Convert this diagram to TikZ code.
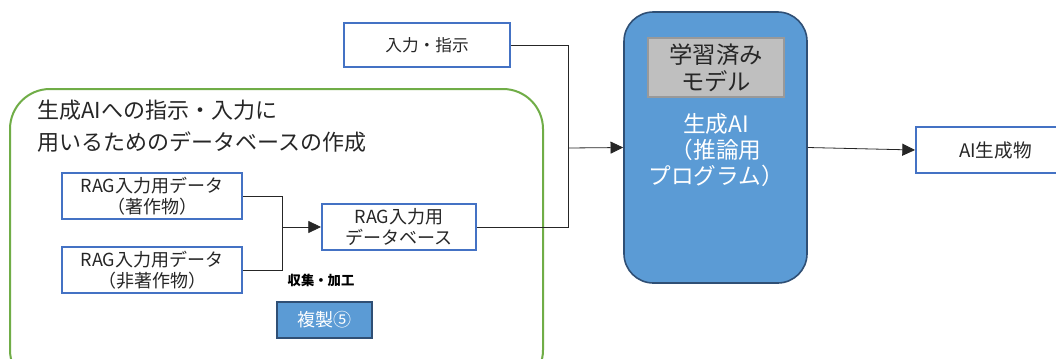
\documentclass[tikz,border=0pt]{standalone}
\usepackage{fontspec}
\setmainfont{Noto Sans CJK JP}
\usepackage{tikz}
\usetikzlibrary{arrows.meta}

\definecolor{boxblue}{HTML}{4472C4}
\definecolor{aifill}{HTML}{5B9BD5}
\definecolor{aiedge}{HTML}{2F4F75}
\definecolor{regiongreen}{HTML}{70AD47}
\definecolor{modelgray}{HTML}{BFBFBF}
\definecolor{inkgray}{HTML}{262626}

\tikzset{
  databox/.style={draw=boxblue, line width=1.5pt, fill=white, inner sep=0pt,
    align=center, font=\fontsize{13.5}{15.5}\selectfont, text=inkgray},
  link/.style={draw=black!85, line width=0.6pt},
  arr/.style={link, -{Triangle[length=9.5pt, width=9pt]}}
}

\begin{document}
\begin{tikzpicture}[x=0.75pt, y=-0.75pt]
            \clip (0,0) rectangle (1056,358);
            \fill[white] (0,0) rectangle (1056,358);

            % region for the RAG database
            \draw[regiongreen, line width=1.5pt, rounded corners=30pt] (10,89) rectangle (543,390);
            \node[anchor=north west, inner sep=0pt, align=left, text=inkgray,
                  font=\fontsize{16.5}{24}\selectfont] (title) at (37,100)
                  {生成AIへの指示・入力に\\用いるためのデータベースの作成};

            % data
            \node[databox, minimum width=135pt, minimum height=34.5pt] (works) at (152,196) {RAG入力用データ\\（著作物）};
            \node[databox, minimum width=135pt, minimum height=34.5pt] (nonworks) at (152,270) {RAG入力用データ\\（非著作物）};
            \node[databox, minimum width=115.5pt, minimum height=34.5pt] (db) at (399,227) {RAG入力用\\データベース};
            \coordinate (merge) at (282,227);
            \draw[link] (works.east) -| (merge);
            \draw[link] (nonworks.east) -| (merge);
            \draw[arr] (merge) -- (db.west);

            \node[inner sep=0pt, font=\bfseries\fontsize{10}{12}\selectfont, text=black] (collect) at (321,280) {収集・加工};
            \node[draw=aiedge, line width=1.2pt, fill=aifill, text=white, inner sep=0pt,
                  minimum width=71.25pt, minimum height=27pt,
                  font=\fontsize{13.5}{15}\selectfont] (copy) at (324.5,320) {複製⑤};

            % input
            \node[databox, font=\fontsize{12.5}{15}\selectfont, minimum width=124.5pt, minimum height=33pt] (input) at (427,45) {入力・指示};
            \coordinate (join) at (568,148);
            \draw[link] (input.east) -| (join);
            \draw[link] (db.east) -| (join);

            % generative AI
            \node[draw=aiedge, line width=1.2pt, fill=aifill, rounded corners=22pt,
                  minimum width=137.25pt, minimum height=203.25pt] (ai) at (715.5,147.5) {};
            \node[draw=gray!80, line width=0.8pt, fill=modelgray, inner sep=0pt, align=center,
                  minimum width=102pt, minimum height=44.25pt, text=inkgray,
                  font=\fontsize{17.5}{20}\selectfont] (model) at (716,67.5) {学習済み\\モデル};
            \node[text=white, align=center, inner sep=0pt,
                  font=\fontsize{17}{19.5}\selectfont] (aitext) at (716,150) {生成AI\\（推論用\\プログラム）};
            \draw[arr] (join) -- (ai.west);

            % output
            \node[databox, font=\fontsize{14}{16}\selectfont, minimum width=119.25pt, minimum height=34.5pt] (out) at (995.5,150) {AI生成物};
            \draw[arr] (ai.east) -- (out.west);
        \end{tikzpicture}
\end{document}
